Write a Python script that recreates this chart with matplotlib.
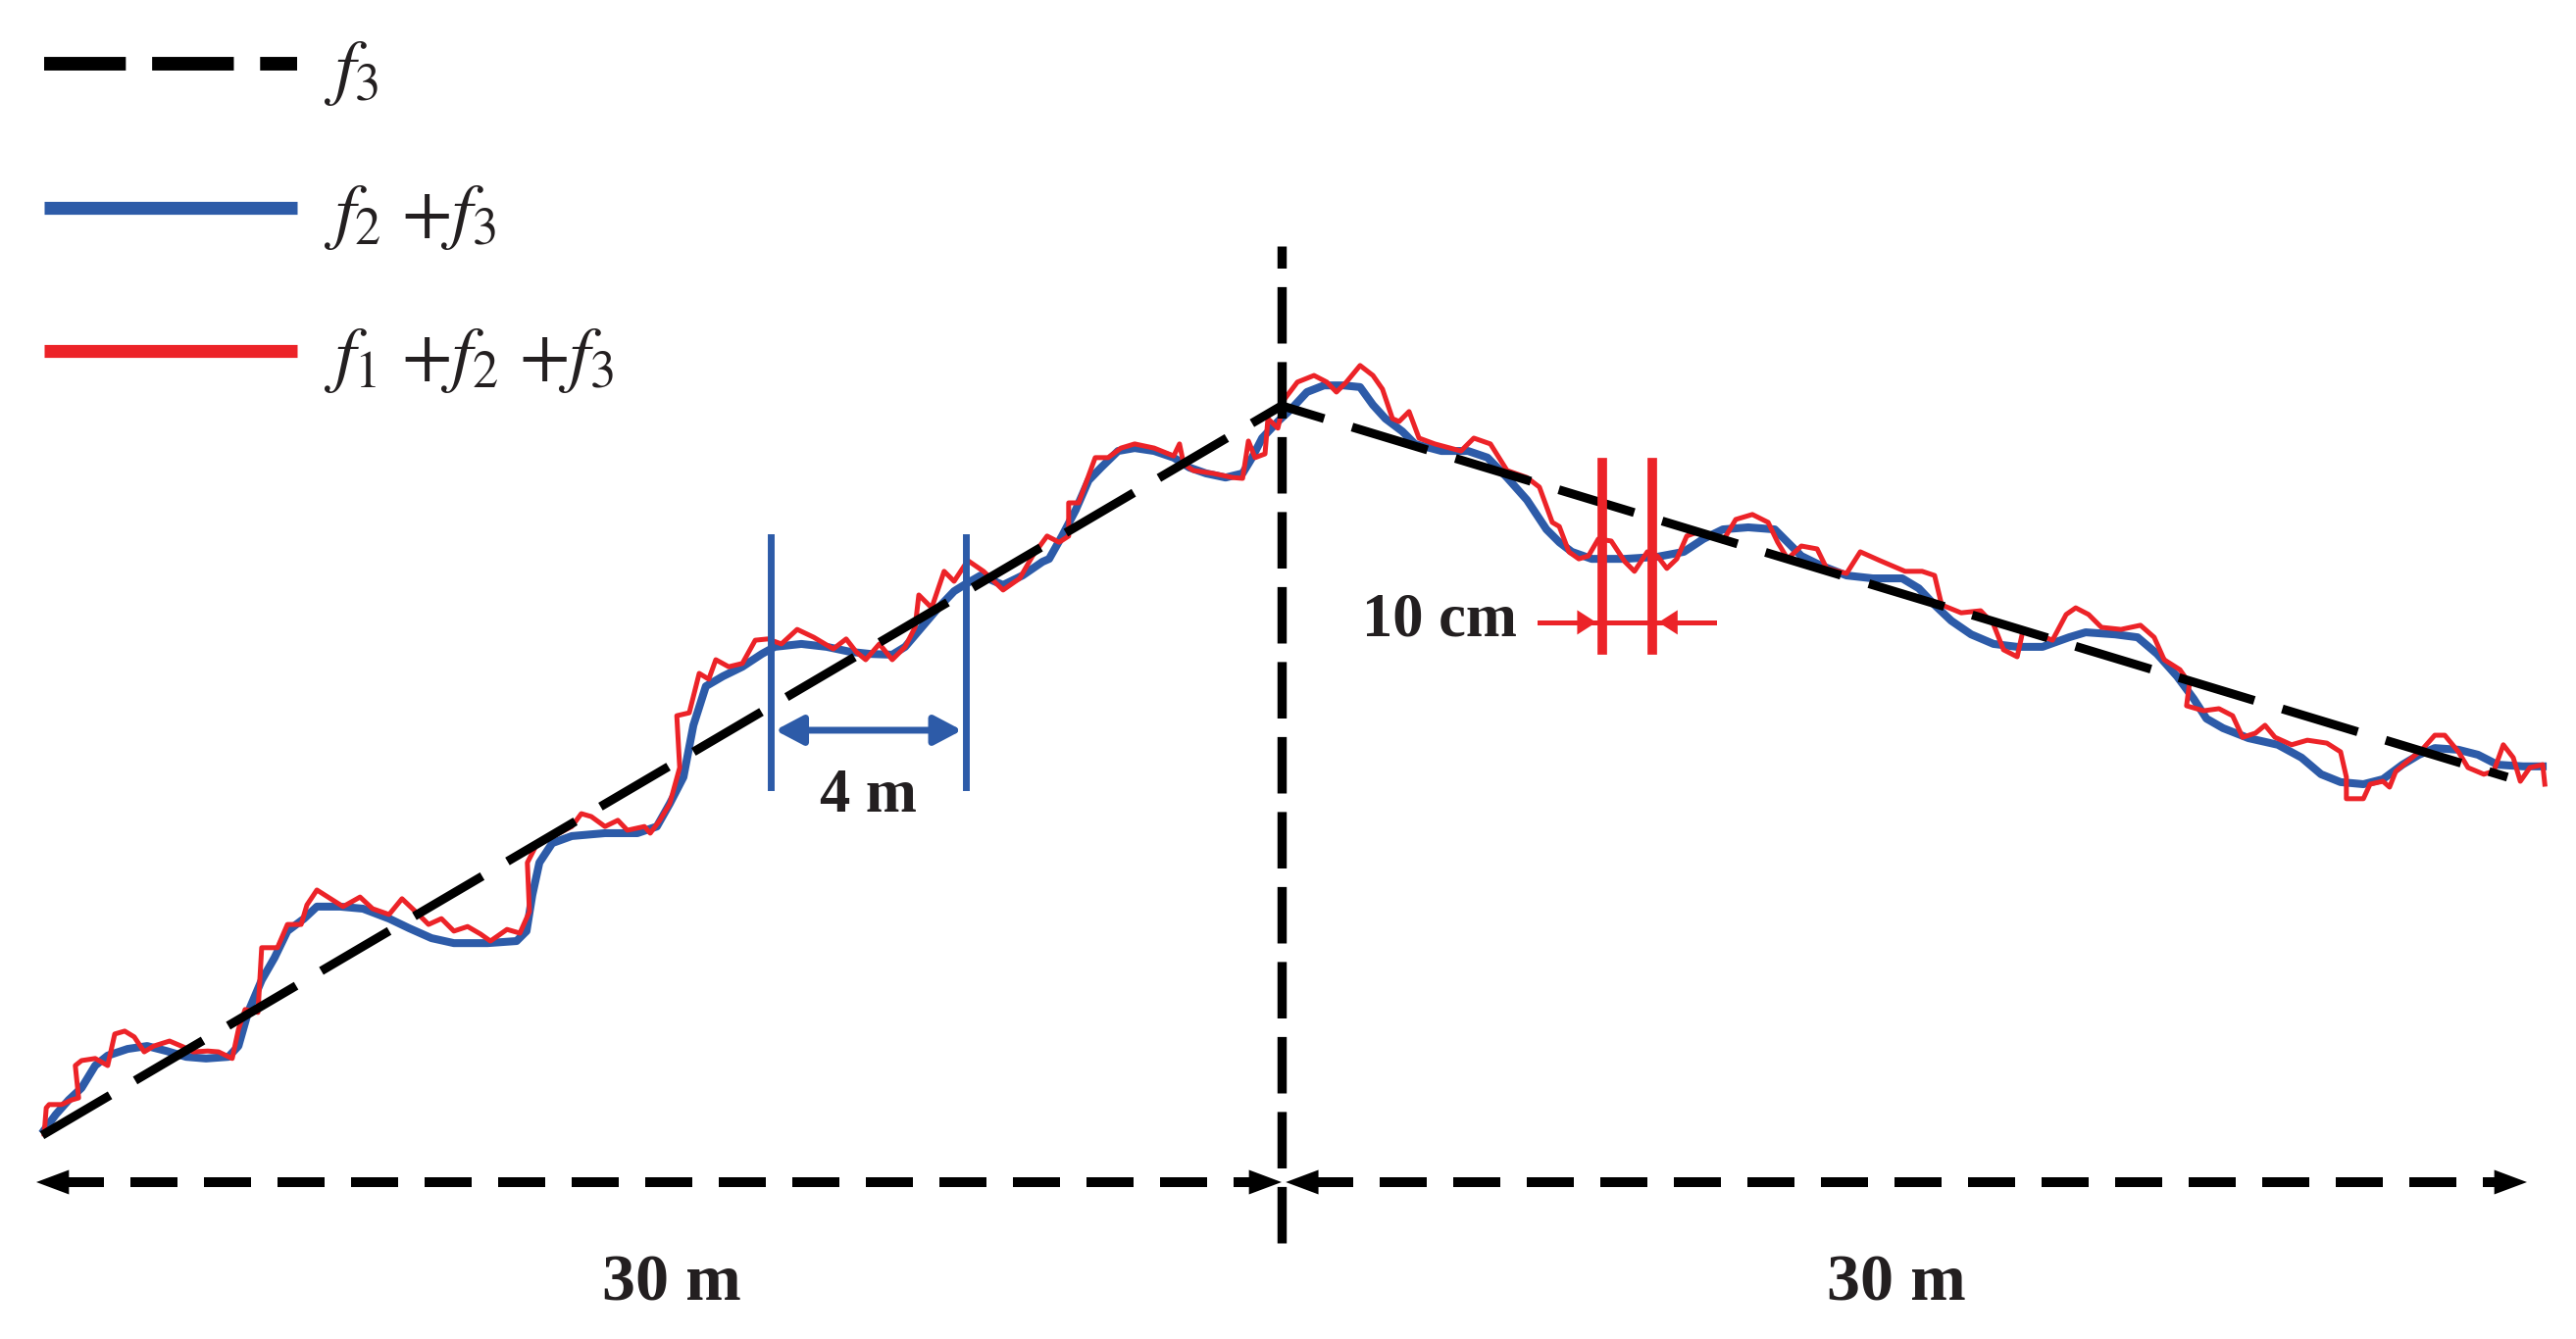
import matplotlib.pyplot as plt

plt.rcParams['mathtext.fontset'] = 'stix'

# ------------------------------------------------------------------
# Profile data: distance (m) and elevation (m)
# ------------------------------------------------------------------
f3_x = [0.14, 30.0, 59.53]
f3_y = [4.91, 22.49, 13.54]

f23_x = [0.19, 0.47, 0.78, 1.09, 1.42, 1.72, 2.20, 2.67, 3.14, 3.61, 4.09, 4.63,
         4.87, 5.10, 5.43, 5.74, 6.05, 6.45, 6.76, 7.32, 7.87, 8.50, 8.98, 9.52,
         10.06, 10.87, 11.57, 11.81, 11.95, 12.12, 12.43, 12.90, 13.70, 14.48,
         14.95, 15.26, 15.59, 15.83, 16.13, 16.54, 17.01, 17.48, 17.79, 18.43,
         19.04, 19.61, 20.08, 20.62, 20.93, 21.33, 21.73, 22.11, 22.35, 22.75,
         23.29, 23.76, 24.24, 24.40, 24.71, 25.04, 25.35, 25.65, 26.06, 26.46,
         26.93, 27.40, 27.78, 28.18, 28.65, 29.06, 29.29, 29.53, 29.91, 30.24,
         30.61, 31.02, 31.49, 31.89, 32.20, 32.50, 32.91, 33.21, 33.85, 34.49,
         34.96, 35.43, 35.91, 36.38, 36.69, 36.99, 37.47, 38.27, 39.05, 39.69,
         40.16, 40.63, 41.24, 41.88, 42.19, 42.52, 42.99, 43.61, 44.24, 44.95,
         45.35, 45.73, 46.13, 46.61, 47.15, 47.72, 48.33, 48.97, 49.37, 50.08,
         50.62, 51.09, 51.57, 51.97, 52.28, 52.68, 53.29, 54.00, 54.57, 55.04,
         55.51, 56.06, 56.53, 57.00, 57.40, 57.78, 58.35, 58.82, 59.29, 59.91,
         60.38]
f23_y = [5.03, 5.41, 5.76, 6.05, 6.59, 6.83, 6.99, 7.06, 6.94, 6.80, 6.76, 6.80,
         7.06, 7.87, 8.65, 9.19, 9.83, 10.13, 10.42, 10.42, 10.37, 10.13, 9.90, 9.66,
         9.54, 9.54, 9.59, 9.83, 10.70, 11.48, 11.95, 12.12, 12.19, 12.19,
         12.35, 12.90, 13.54, 14.79, 15.73, 15.97, 16.20, 16.51, 16.68, 16.75,
         16.68, 16.56, 16.51, 16.49, 16.68, 17.15, 17.62, 18.02, 18.17, 18.40,
         18.17, 18.40, 18.73, 18.80, 19.35, 19.98, 20.69, 21.00, 21.40, 21.47,
         21.40, 21.24, 21.00, 20.86, 20.76, 20.86, 21.24, 21.71, 22.11, 22.42,
         22.82, 22.98, 22.98, 22.94, 22.51, 22.18, 21.87, 21.57, 21.40, 21.40,
         21.24, 20.76, 20.22, 19.51, 19.20, 18.97, 18.80, 18.80, 18.85, 18.97,
         19.28, 19.51, 19.56, 19.51, 19.20, 18.87, 18.64, 18.40, 18.33, 18.33,
         18.09, 17.69, 17.31, 16.98, 16.75, 16.68, 16.68, 16.91, 17.03, 16.98,
         16.91, 16.51, 15.97, 15.43, 14.95, 14.72, 14.48, 14.32, 14.01, 13.61,
         13.42, 13.37, 13.49, 13.84, 14.08, 14.24, 14.20, 14.08, 13.84, 13.80,
         13.80]

f123_x = [0.19, 0.24, 0.31, 0.61, 0.85, 1.02, 0.94, 1.09, 1.42, 1.72, 1.89, 2.13,
          2.36, 2.60, 2.83, 3.21, 3.54, 3.78, 4.13, 4.39, 4.72, 4.87, 5.03, 5.34,
          5.43, 5.81, 6.05, 6.38, 6.52, 6.76, 7.09, 7.39, 7.80, 8.10, 8.50, 8.81,
          9.21, 9.45, 9.76, 10.06, 10.39, 10.70, 10.94, 11.34, 11.65, 11.88, 11.83,
          12.05, 12.59, 12.90, 13.13, 13.37, 13.70, 14.01, 14.24, 14.65, 14.79,
          15.02, 15.26, 15.50, 15.43, 15.73, 15.97, 16.20, 16.37, 16.68, 17.01,
          17.32, 17.62, 17.95, 18.33, 18.73, 19.20, 19.51, 19.75, 19.98, 20.31,
          20.62, 20.93, 21.17, 21.26, 21.57, 21.87, 22.11, 22.44, 22.82, 23.29,
          23.69, 24.00, 24.35, 24.64, 24.87, 24.87, 25.11, 25.51, 25.82, 26.13,
          26.46, 26.93, 27.40, 27.54, 27.64, 27.87, 28.35, 28.82, 29.06, 29.20,
          29.36, 29.60, 29.67, 29.91, 30.07, 30.38, 30.78, 31.09, 31.32, 31.56,
          31.89, 32.20, 32.43, 32.67, 32.83, 33.07, 33.31, 33.69, 34.32, 34.63,
          35.03, 35.43, 35.91, 36.21, 36.52, 36.69, 36.92, 37.16, 37.39, 37.63,
          37.94, 38.27, 38.50, 38.81, 39.05, 39.28, 39.52, 39.76, 40.06, 40.39,
          40.63, 40.94, 41.34, 41.72, 41.95, 42.19, 42.52, 42.90, 43.13, 43.61,
          43.94, 44.41, 45.02, 45.43, 45.73, 45.90, 46.37, 46.84, 47.15, 47.39,
          47.72, 47.86, 48.26, 48.57, 48.90, 49.13, 49.44, 49.75, 50.22, 50.69,
          51.02, 51.26, 51.64, 51.87, 51.80, 52.21, 52.58, 52.91, 53.15, 53.46,
          53.69, 53.93, 54.33, 54.71, 55.18, 55.51, 55.65, 55.65, 56.06, 56.22,
          56.53, 56.69, 56.84, 57.17, 57.47, 57.78, 58.02, 58.35, 58.58, 58.96,
          59.20, 59.43, 59.67, 59.84, 60.07, 60.38, 60.43]
f123_y = [4.94, 5.57, 5.65, 5.65, 5.76, 5.81, 6.59, 6.71, 6.76, 6.59, 7.35, 7.42,
          7.28, 6.92, 7.06, 7.18, 7.04, 6.92, 6.94, 6.92, 6.76, 7.46, 7.94, 7.87,
          9.43, 9.43, 9.99, 9.99, 10.46, 10.82, 10.61, 10.42, 10.65, 10.37, 10.23, 10.61,
          10.23, 9.99, 10.13, 9.83, 9.94, 9.76, 9.59, 9.87, 9.78, 10.30, 11.48,
          11.91, 12.19, 12.35, 12.66, 12.59, 12.35, 12.50, 12.26, 12.35, 12.19,
          12.50, 12.90, 13.77, 15.02, 15.09, 16.04, 15.90, 16.37, 16.20, 16.28,
          16.84, 16.87, 16.75, 17.10, 16.91, 16.63, 16.87, 16.56, 16.37, 16.75,
          16.37, 16.68, 17.15, 17.93, 17.62, 18.50, 18.26, 18.76, 18.50, 18.05,
          18.33, 18.87, 19.35, 19.20, 19.35, 20.15, 20.15, 21.24, 21.24, 21.47,
          21.57, 21.47, 21.28, 21.57, 21.09, 20.93, 20.86, 20.76, 20.74, 21.64,
          21.24, 21.33, 22.18, 21.95, 22.65, 23.06, 23.22, 23.06, 22.82, 23.06,
          23.46, 23.22, 22.89, 22.18, 22.11, 22.35, 21.71, 21.57, 21.40, 21.71,
          21.57, 20.93, 20.76, 20.53, 19.68, 19.58, 18.97, 18.80, 18.87, 19.28,
          19.23, 18.73, 18.50, 18.97, 18.87, 18.57, 18.80, 19.35, 19.46, 19.35,
          19.23, 19.75, 19.87, 19.68, 19.20, 18.80, 19.11, 19.04, 18.57, 18.45,
          18.97, 18.76, 18.50, 18.50, 18.40, 17.69, 17.50, 17.55, 17.22, 16.61,
          16.44, 17.08, 16.96, 16.84, 17.46, 17.62, 17.46, 17.15, 17.10, 17.20,
          16.91, 16.37, 16.13, 15.80, 15.26, 15.14, 15.19, 15.02, 14.50, 14.60,
          14.79, 14.50, 14.32, 14.43, 14.36, 14.15, 13.54, 13.02, 13.02, 13.37,
          13.44, 13.30, 13.68, 13.96, 14.20, 14.55, 14.55, 14.15, 13.77, 13.61,
          13.68, 14.32, 14.01, 13.44, 13.77, 13.84, 13.37]

legend_labels = [r'$f_3$', r'$f_2\ {+}f_3$', r'$f_1\ {+}f_2\ {+}f_3$']

# dimension marks (m)
half_span = 30
span_labels = ['30 m', '30 m']
span_label_x = [15.3, 44.8]
long_wave = [17.7, 22.4]        # the "4 m" wavelength bars
long_wave_label = '4 m'
short_wave = [37.73, 38.93]     # the "10 cm" wavelength bars
short_wave_label = '10 cm'

BLUE = '#2d5ba8'
RED = '#ec2328'
TEXT = '#231f20'

PX_PER_M = 42.333  # sketch scale

fig = plt.figure(figsize=(26.27, 13.66), dpi=100)
ax = fig.add_axes([0, 0, 1, 1])
ax.set_xlim(-37 / PX_PER_M, (2627 - 37) / PX_PER_M)
ax.set_ylim(0, 1366 / PX_PER_M)
ax.axis('off')

# profiles
ax.plot(f23_x, f23_y, color=BLUE, lw=5.8, solid_joinstyle='round', zorder=3)
ax.plot(f123_x, f123_y, color=RED, lw=3.6, solid_joinstyle='round', zorder=4)
ax.plot(f3_x, f3_y, color='black', lw=6.5, dashes=(8.9, 3.3), zorder=5)

# vertical divider at the ridge
ax.plot([half_span, half_span], [2.31, 26.34], color='black', lw=6.8,
        dashes=(6.1, 2.0), zorder=5)

# horizontal dashed span arrows
y_span = 3.78
head = '-|>,head_length=2.4,head_width=0.9'
for x0, x1 in [(0, half_span), (half_span + 0.1, 2 * half_span)]:
    ax.plot([x0 + 0.5, x1 - 0.5], [y_span, y_span], color='black', lw=7.2,
            dashes=(4.8, 2.7), zorder=5)
    ax.annotate('', xy=(x0, y_span), xytext=(x0 + 0.8, y_span),
                arrowprops=dict(arrowstyle=head, mutation_scale=10, color='black',
                                lw=0, shrinkA=0, shrinkB=0), zorder=6)
    ax.annotate('', xy=(x1, y_span), xytext=(x1 - 0.8, y_span),
                arrowprops=dict(arrowstyle=head, mutation_scale=10, color='black',
                                lw=0, shrinkA=0, shrinkB=0), zorder=6)

for lx, lab in zip(span_label_x, span_labels):
    ax.text(lx, 1.32, lab, ha='center', va='center', fontsize=49,
            family='Liberation Serif', fontweight='bold', color=TEXT)

# 4 m wavelength marker
for xv in long_wave:
    ax.plot([xv, xv], [13.30, 19.32], color=BLUE, lw=5, zorder=6)
ax.annotate('', xy=(long_wave[0] + 0.1, 14.67), xytext=(long_wave[1] - 0.1, 14.67),
            arrowprops=dict(arrowstyle='<|-|>,head_length=1.7,head_width=0.9',
                            mutation_scale=10, color=BLUE, lw=5,
                            shrinkA=0, shrinkB=0), zorder=6)
ax.text(sum(long_wave) / 2, 13.06, long_wave_label, ha='center', va='center',
        fontsize=45, family='Liberation Serif', fontweight='bold', color=TEXT)

# 10 cm wavelength marker
for xv in short_wave:
    ax.plot([xv, xv], [16.61, 21.12], color=RED, lw=7, zorder=6)
ax.plot([36.21, short_wave[0]], [17.27, 17.27], color=RED, lw=3.6, zorder=6)
ax.plot([short_wave[0], short_wave[1]], [17.27, 17.27], color=RED, lw=3.6, zorder=6)
ax.plot([short_wave[1], 40.42], [17.27, 17.27], color=RED, lw=3.6, zorder=6)
ax.annotate('', xy=(short_wave[0] - 0.15, 17.27), xytext=(short_wave[0] - 0.8, 17.27),
            arrowprops=dict(arrowstyle='-|>,head_length=1.4,head_width=0.9',
                            mutation_scale=10, color=RED, lw=0,
                            shrinkA=0, shrinkB=0), zorder=7)
ax.annotate('', xy=(short_wave[1] + 0.15, 17.27), xytext=(short_wave[1] + 0.8, 17.27),
            arrowprops=dict(arrowstyle='-|>,head_length=1.4,head_width=0.9',
                            mutation_scale=10, color=RED, lw=0,
                            shrinkA=0, shrinkB=0), zorder=7)
ax.text(33.8, 17.31, short_wave_label, ha='center', va='center', fontsize=45,
        family='Liberation Serif', fontweight='bold', color=TEXT)

# hand-made legend, top left
legend_y = [0.9524, 0.8448, 0.7379]
legend_styles = [dict(color='black', lw=10, dashes=(6.0, 1.93)),
                 dict(color=BLUE, lw=9.5),
                 dict(color=RED, lw=9.5)]
for ly, style, lab in zip(legend_y, legend_styles, legend_labels):
    ax.plot([0.0171, 0.1153], [ly, ly], transform=ax.transAxes,
            solid_capstyle='butt', **style)
    ax.text(0.1256, ly - 0.006, lab, transform=ax.transAxes, ha='left', va='center',
            fontsize=54, color=TEXT)

fig.savefig('out.png', dpi=100)
